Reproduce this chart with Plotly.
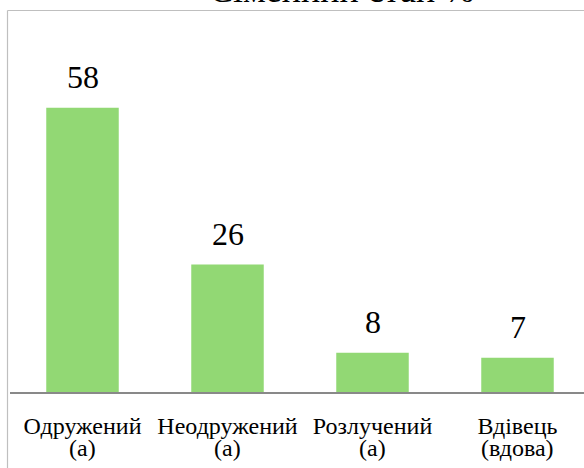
import plotly.graph_objects as go

categories = ["Одружений", "Неодружений", "Розлучений", "Вдівець"]
labels_line2 = ["(а)", "(а)", "(а)", "(вдова)"]
values = [58, 26, 8, 7]
title_text = "Сімейний стан %"

FONT = "'Liberation Serif', 'Times New Roman', serif"
BAR_COLOR = "#92D874"

fig = go.Figure()
fig.add_trace(go.Bar(
    x=categories, y=values,
    marker=dict(color=BAR_COLOR, line=dict(width=0)),
    hoverinfo="skip",
))

annotations = []
for c, v in zip(categories, values):
    annotations.append(dict(
        x=c, y=v, xref="x", yref="y", text=str(v), showarrow=False,
        yanchor="bottom", yshift=11,
        font=dict(family=FONT, size=32, color="black"),
    ))
for c, l2 in zip(categories, labels_line2):
    annotations.append(dict(
        x=c, y=0, xref="x", yref="paper", text=l2, showarrow=False,
        yanchor="top", yshift=-41,
        font=dict(family=FONT, size=24, color="black"),
    ))
annotations.append(dict(
    x=(341 - 10) / 574, y=1, xref="paper", yref="paper", text=title_text,
    showarrow=False, yanchor="bottom", yshift=-1,
    font=dict(family=FONT, size=36, color="black"),
))

H = 381.0
W = 574.0
border_color = "#BFBFBF"
shapes = [
    dict(type="line", xref="paper", yref="paper",
         x0=(7.5 - 10) / W, x1=(7.5 - 10) / W,
         y0=(392 - 480) / H, y1=(392 - 10.5) / H,
         line=dict(color=border_color, width=1.2)),
    dict(type="line", xref="paper", yref="paper",
         x0=(7.5 - 10) / W, x1=1.05,
         y0=(392 - 10.5) / H, y1=(392 - 10.5) / H,
         line=dict(color=border_color, width=1.2)),
]

fig.update_layout(
    width=584, height=468,
    margin=dict(l=10, r=0, t=11, b=76),
    paper_bgcolor="white", plot_bgcolor="white",
    bargap=0.5,
    showlegend=False,
    annotations=annotations,
    shapes=shapes,
    xaxis=dict(
        type="category", range=[-0.5, -0.5 + W / 145.0],
        showline=True, linecolor="#898989", linewidth=1.5,
        ticks="", showgrid=False, zeroline=False,
        tickfont=dict(family=FONT, size=24, color="black"),
        ticklabelstandoff=11,
        fixedrange=True,
    ),
    yaxis=dict(
        range=[0, H / 4.9], visible=False, showgrid=False,
        zeroline=False, fixedrange=True,
    ),
)

fig.write_html(
    "out.html",
    config={"displayModeBar": False},
    post_script="document.body.style.margin='0';document.body.style.overflow='hidden';",
)
